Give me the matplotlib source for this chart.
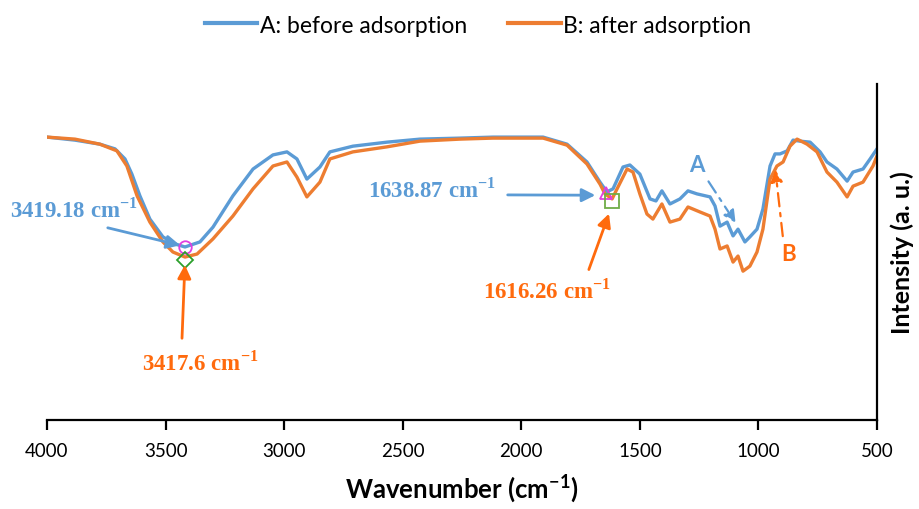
import numpy as np
import matplotlib.pyplot as plt

plt.rcParams['mathtext.fontset'] = 'custom'
plt.rcParams['mathtext.rm'] = 'Liberation Serif:bold'
plt.rcParams['mathtext.sf'] = 'Lato:bold'

# FTIR spectra, intensity in arbitrary units
wn_a = [4000, 3882, 3777, 3713, 3671, 3642, 3608, 3566, 3511, 3460, 3418, 3355, 3300,
        3216, 3131, 3047, 2988, 2946, 2904, 2849, 2807, 2710, 2566, 2427, 2258, 2119,
        1908, 1807, 1723, 1668, 1639, 1613, 1571, 1542, 1500, 1457, 1432, 1407, 1373,
        1331, 1297, 1259, 1204, 1183, 1162, 1132, 1107, 1086, 1057, 1036, 1006, 981,
        951, 930, 909, 879, 854, 825, 782, 740, 711, 669, 626, 601, 559, 529, 500]
int_a = [84.2, 83.3, 82.1, 80.7, 77.7, 73.2, 66.7, 59.8, 54.5, 52.4, 51.5, 53.0, 57.4,
         66.7, 74.7, 78.9, 79.8, 77.7, 71.7, 75.3, 79.8, 81.5, 82.7, 83.6, 83.9, 84.2,
         84.2, 82.1, 76.8, 70.8, 67.9, 68.8, 75.3, 75.9, 73.2, 65.8, 65.2, 68.2, 64.3,
         65.8, 68.2, 67.3, 66.4, 63.7, 57.7, 58.9, 54.8, 56.8, 53.0, 54.5, 56.8, 62.8,
         75.6, 79.2, 79.2, 80.1, 83.3, 83.0, 82.7, 79.8, 76.8, 74.7, 71.1, 73.8, 74.7, 77.7, 80.7]

wn_b = [4000, 3882, 3777, 3705, 3663, 3620, 3566, 3511, 3469, 3418, 3367, 3300, 3216,
        3131, 3047, 2988, 2946, 2904, 2849, 2807, 2710, 2566, 2427, 2258, 2119, 1908,
        1807, 1723, 1668, 1647, 1617, 1596, 1554, 1529, 1500, 1470, 1445, 1407, 1373,
        1331, 1297, 1246, 1204, 1183, 1162, 1132, 1107, 1086, 1065, 1036, 1006, 981,
        951, 922, 896, 867, 837, 795, 753, 711, 669, 626, 601, 559, 517, 500]
int_b = [84.2, 83.6, 82.1, 80.1, 75.6, 66.7, 58.9, 53.0, 50.0, 48.5, 49.4, 53.9, 60.7,
         68.8, 75.6, 76.8, 72.3, 66.4, 70.8, 77.7, 79.8, 81.3, 83.0, 83.6, 83.9, 83.9,
         81.8, 76.2, 70.2, 67.3, 65.8, 68.8, 74.7, 73.8, 67.3, 61.3, 59.8, 64.3, 58.9,
         59.8, 63.4, 61.9, 60.7, 56.8, 50.9, 51.8, 47.0, 48.8, 44.3, 45.8, 50.0, 56.8,
         71.7, 75.6, 76.8, 81.5, 83.6, 82.1, 79.8, 73.8, 70.8, 66.4, 69.6, 70.8, 75.6, 78.6]

xticks = [4000, 3500, 3000, 2500, 2000, 1500, 1000, 500]

blue = '#5B9BD5'
orange = '#ED7D31'
orange_txt = '#FF6A0D'

fig = plt.figure(figsize=(9.19, 5.10), dpi=100)
ax = fig.add_axes([0.0511, 0.1745, 0.9032, 0.6588])

ax.plot(wn_a, int_a, color=blue, lw=2.4, label='A: before adsorption')
ax.plot(wn_b, int_b, color=orange, lw=2.4, label='B: after adsorption')

# peak markers
ax.plot(3419, 51.5, 'o', ms=9, mfc='none', mec='#E040E0', mew=1.3)
ax.plot(3418, 47.6, 'D', ms=8, mfc='none', mec='#2CA02C', mew=1.3)
ax.plot(1642, 67.6, '^', ms=9, mfc='none', mec='#E040E0', mew=1.3)
ax.plot(1618, 65.2, 's', ms=10, mfc='none', mec='#70AD47', mew=1.3)

ax.set_xlim(4000, 500)
ax.set_ylim(0, 100)
ax.set_xticks(xticks)
ax.set_yticks([])
for s in ['top', 'left']:
    ax.spines[s].set_visible(False)
for s in ['bottom', 'right']:
    ax.spines[s].set_linewidth(1.6)
ax.tick_params(axis='x', direction='out', length=7, width=1.6, pad=9, labelsize=13.5)
for t in ax.get_xticklabels():
    t.set_fontfamily('Lato')

ax.set_xlabel('Wavenumber (cm$^{\\mathsf{-1}}$)', fontsize=18.5, fontweight='bold',
              fontfamily='Lato', labelpad=9)
ax.yaxis.set_label_position('right')
ax.set_ylabel('Intensity (a. u.)', fontsize=18, fontweight='bold', fontfamily='Lato',
              labelpad=10)

serif = dict(fontfamily='Liberation Serif', fontweight='bold', fontsize=16.5,
             ha='center', va='center')
ax.text(3886, 62.8, '3419.18 cm$^{\\mathrm{-1}}$', color=blue, **serif)
ax.annotate('', xy=(3427, 51.8), xytext=(3755, 57.4),
            arrowprops=dict(arrowstyle='-|>', mutation_scale=20, lw=2, color=blue))
ax.text(3355, 17.3, '3417.6 cm$^{\\mathrm{-1}}$', color=orange_txt, **serif)
ax.annotate('', xy=(3418, 47.0), xytext=(3431, 23.5),
            arrowprops=dict(arrowstyle='-|>', mutation_scale=20, lw=2, color=orange_txt))
ax.text(2376, 68.8, '1638.87 cm$^{\\mathrm{-1}}$', color=blue, **serif)
ax.annotate('', xy=(1676, 66.9), xytext=(2069, 67.0),
            arrowprops=dict(arrowstyle='-|>', mutation_scale=20, lw=2, color=blue))
ax.text(1892, 38.7, '1616.26 cm$^{\\mathrm{-1}}$', color=orange_txt, **serif)
ax.annotate('', xy=(1626, 62.2), xytext=(1719, 44.0),
            arrowprops=dict(arrowstyle='-|>', mutation_scale=20, lw=2, color=orange_txt))

ax.text(1259, 75.9, 'A', color=blue, fontsize=16, fontweight='bold', fontfamily='Lato',
        ha='center', va='center')
ax.annotate('', xy=(1090, 58.0), xytext=(1217, 71.7),
            arrowprops=dict(arrowstyle='-|>', mutation_scale=18, lw=1.6, color=blue,
                            linestyle=(0, (6, 3, 1.5, 3))))
ax.text(875, 49.7, 'B', color=orange_txt, fontsize=16, fontweight='bold', fontfamily='Lato',
        ha='center', va='center')
ax.annotate('', xy=(930, 75.3), xytext=(896, 53.9),
            arrowprops=dict(arrowstyle='-|>', mutation_scale=18, lw=1.6, color=orange_txt,
                            linestyle=(0, (6, 3, 1.5, 3))))

leg = fig.legend(loc='center', bbox_to_anchor=(0.52, 0.949), ncol=2, frameon=False,
                 prop={'family': 'Lato', 'size': 16.5}, handlelength=2.3, handletextpad=0.1,
                 columnspacing=1.8)
for l in leg.get_lines():
    l.set_linewidth(3)

fig.savefig('out.png', dpi=100)
